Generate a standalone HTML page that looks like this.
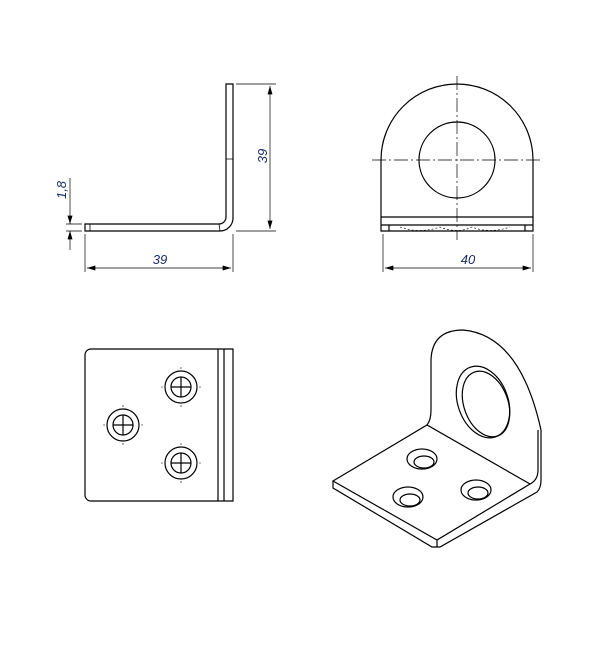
<!DOCTYPE html>
<html><head><style>body{margin:0;background:#fff}svg{display:block}</style></head><body>
<svg width="600" height="660" viewBox="0 0 600 660" xmlns="http://www.w3.org/2000/svg" fill="none" stroke="#000" stroke-width="1.2">
<defs><marker id="a" viewBox="0 0 10 6" refX="10" refY="3" markerWidth="12" markerHeight="5" orient="auto-start-reverse" markerUnits="userSpaceOnUse"><path d="M0,0L10,3L0,6z" fill="#000" stroke="none"/></marker></defs>
<path d="M226,84H233V218A13,13 0 0 1 220,231H85V224H219A7,7 0 0 0 226,217Z"/>
<path d="M226,159H233M90,224V231M219,224L220,231" stroke-width="0.8"/>
<g stroke-width="0.7">
<path d="M236,84H276M236,231H276M85,234V272M233,234V272M66,224H82M66,231H82"/>
<path d="M270,86V229" marker-start="url(#a)" marker-end="url(#a)"/>
<path d="M87,268H231" marker-start="url(#a)" marker-end="url(#a)"/>
<path d="M70,178V224" marker-end="url(#a)"/><path d="M70,250V231" marker-end="url(#a)"/>
<path d="M383,234V272M533,234V272"/>
<path d="M385,268H531" marker-start="url(#a)" marker-end="url(#a)"/>
</g>
<g font-family="Liberation Sans,sans-serif" font-size="13" font-style="italic" fill="#1a2a6a" stroke="none">
<text x="160" y="264" text-anchor="middle">39</text>
<text x="468" y="264" text-anchor="middle">40</text>
<text transform="translate(267,156) rotate(-90)" text-anchor="middle">39</text>
<text transform="translate(66,190) rotate(-90)" text-anchor="middle">1,8</text>
</g>
<path d="M381,231V160A76,76 0 0 1 533,160V231Z"/>
<circle cx="457" cy="160" r="38"/>
<path d="M381,217H533M381,225H533M389,225V231M525,225V231"/>
<path d="M457,76V240M372,160H542" stroke-width="0.7" stroke-dasharray="14,3,2,3"/>
<path d="M400,227Q420,234 440,227Q457,234 472,227Q490,234 510,227" stroke-width="0.6" stroke-dasharray="2,2"/>
<path d="M91,349H233V501H91A6,6 0 0 1 85,495V355A6,6 0 0 1 91,349Z"/>
<path d="M218,349V501M224,349V501"/>
<g>
<circle cx="181" cy="387" r="16"/><circle cx="181" cy="387" r="10"/><path d="M171,387H191M181,377V397"/>
<circle cx="123" cy="425" r="16"/><circle cx="123" cy="425" r="10"/><path d="M113,425H133M123,415V435"/>
<circle cx="181" cy="463" r="16"/><circle cx="181" cy="463" r="10"/><path d="M171,463H191M181,453V473"/>
</g>
<g stroke-width="0.6"><path d="M181,367V369M181,405V407M161,387H163M199,387H201M123,405V407M123,443V445M103,425H105M141,425H143M181,443V445M181,481V483M161,463H163M199,463H201"/></g>
<path d="M333,481L427,425L530,484L437,540Z"/>
<path d="M333,481V488L432,547H440L537,492Q541,488 541,480V430"/>
<path d="M437,540V547M530,484Q538,480 538,470V430"/>
<path d="M427,425Q431,420 431,410V360Q432,330 463,330Q520,335 541,430"/>
<ellipse cx="483" cy="402" rx="25" ry="37" transform="rotate(-20 483 402)"/>
<ellipse cx="486" cy="404" rx="22" ry="34" transform="rotate(-20 486 404)"/>
<ellipse cx="422" cy="459" rx="15" ry="10"/><ellipse cx="424" cy="462" rx="10" ry="6"/>
<ellipse cx="408" cy="497" rx="15" ry="10"/><ellipse cx="410" cy="500" rx="10" ry="6"/>
<ellipse cx="476" cy="490" rx="15" ry="10"/><ellipse cx="478" cy="493" rx="10" ry="6"/>
</svg>
</body></html>
